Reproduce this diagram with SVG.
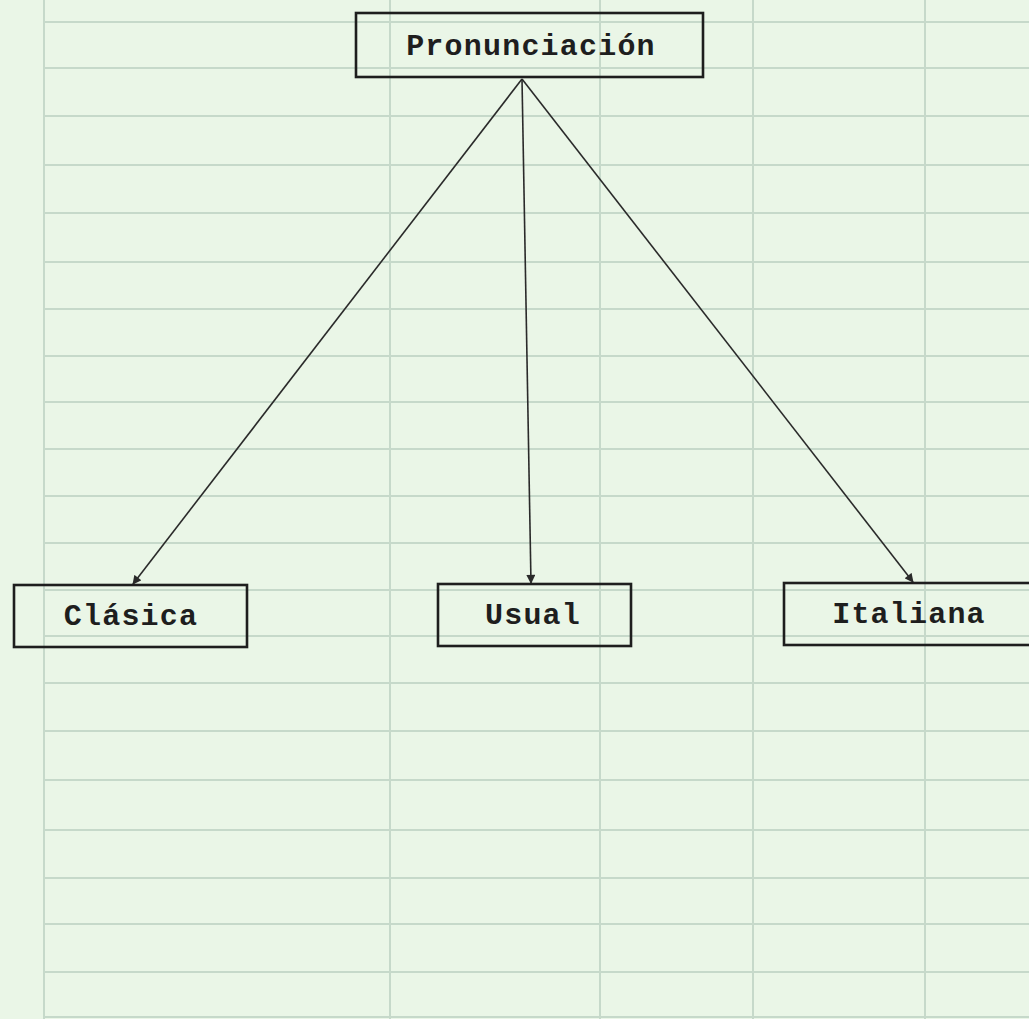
<svg xmlns="http://www.w3.org/2000/svg" width="1029" height="1019" viewBox="0 0 1029 1019">
<style>
.grid line{stroke:#c6d9ca;stroke-width:2}
.box{fill:none;stroke:#1e1e1e;stroke-width:2.6}
.lbl{font-family:"Liberation Mono","Courier New",monospace;font-weight:bold;font-size:30px;letter-spacing:1.2px;fill:#1e1e1e;text-anchor:middle}
.edge{stroke:#2a2a2a;stroke-width:1.6;fill:none;marker-end:url(#ah)}
</style>
<defs>
<marker id="ah" viewBox="0 0 10 10" refX="9" refY="5" markerWidth="10" markerHeight="9" orient="auto" markerUnits="userSpaceOnUse">
<path d="M0,0 L10,5 L0,10 z" fill="#2a2a2a"/>
</marker>
</defs>
<rect width="1029" height="1019" fill="#eaf6e7"/>
<g class="grid">
<line x1="44" y1="0" x2="44" y2="1019"/>
<line x1="390" y1="0" x2="390" y2="1019"/>
<line x1="600" y1="0" x2="600" y2="1019"/>
<line x1="753" y1="0" x2="753" y2="1019"/>
<line x1="925" y1="0" x2="925" y2="1019"/>
<line x1="44" y1="22" x2="1029" y2="22"/>
<line x1="44" y1="68" x2="1029" y2="68"/>
<line x1="44" y1="116" x2="1029" y2="116"/>
<line x1="44" y1="165" x2="1029" y2="165"/>
<line x1="44" y1="213" x2="1029" y2="213"/>
<line x1="44" y1="262" x2="1029" y2="262"/>
<line x1="44" y1="309" x2="1029" y2="309"/>
<line x1="44" y1="356" x2="1029" y2="356"/>
<line x1="44" y1="402" x2="1029" y2="402"/>
<line x1="44" y1="449" x2="1029" y2="449"/>
<line x1="44" y1="496" x2="1029" y2="496"/>
<line x1="44" y1="543" x2="1029" y2="543"/>
<line x1="44" y1="590" x2="1029" y2="590"/>
<line x1="44" y1="636" x2="1029" y2="636"/>
<line x1="44" y1="683" x2="1029" y2="683"/>
<line x1="44" y1="731" x2="1029" y2="731"/>
<line x1="44" y1="780" x2="1029" y2="780"/>
<line x1="44" y1="830" x2="1029" y2="830"/>
<line x1="44" y1="878" x2="1029" y2="878"/>
<line x1="44" y1="924" x2="1029" y2="924"/>
<line x1="44" y1="972" x2="1029" y2="972"/>
<line x1="44" y1="1017" x2="1029" y2="1017"/>
</g>
<g id="connectors">
<line class="edge" x1="522" y1="79" x2="133" y2="584"/>
<line class="edge" x1="522" y1="79" x2="531" y2="583"/>
<line class="edge" x1="522" y1="79" x2="913" y2="582"/>
</g>
<g id="node-pronunciacion">
<rect class="box" x="356" y="13" width="347" height="64" fill="#eaf6e7"/>
<text class="lbl" x="531" y="55">Pronunciación</text>
</g>
<g id="node-clasica">
<rect class="box" x="14" y="585" width="233" height="62"/>
<text class="lbl" x="131" y="625">Clásica</text>
</g>
<g id="node-usual">
<rect class="box" x="438" y="584" width="193" height="62"/>
<text class="lbl" x="533" y="624">Usual</text>
</g>
<g id="node-italiana">
<rect class="box" x="784" y="583" width="260" height="62"/>
<text class="lbl" x="909" y="623">Italiana</text>
</g>
</svg>
